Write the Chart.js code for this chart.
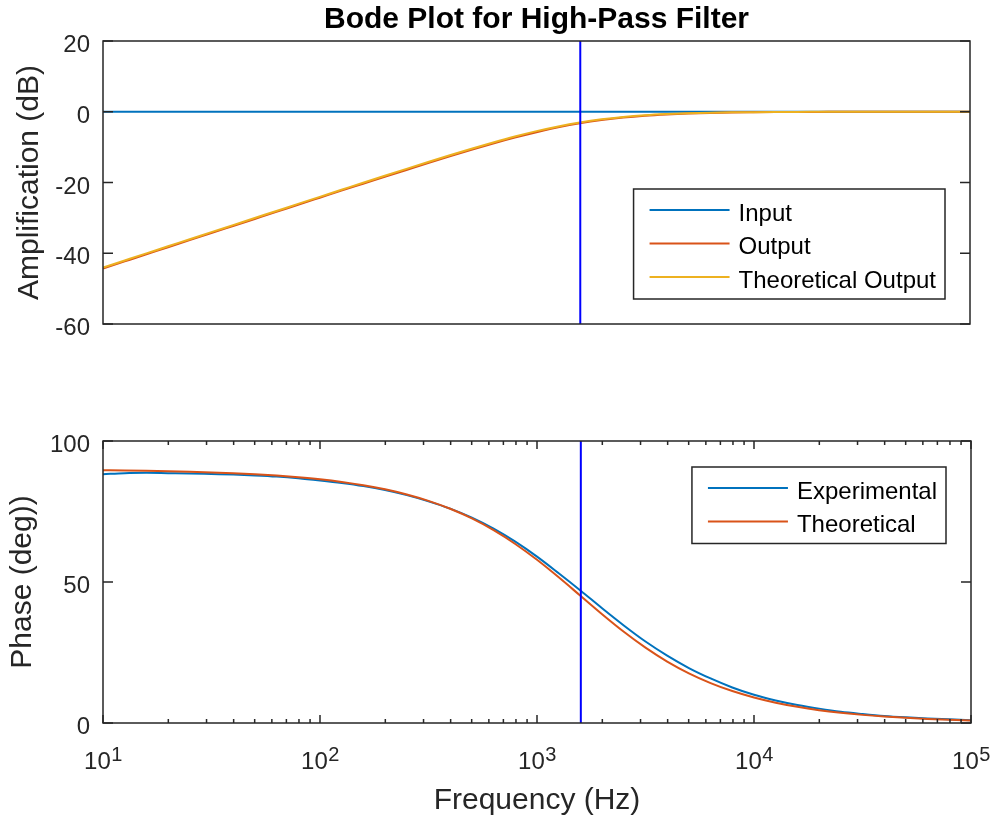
<!DOCTYPE html>
<html><head><meta charset="utf-8">
<script src="https://cdn.jsdelivr.net/npm/chart.js@4.4.1/dist/chart.umd.min.js"></script>
<style>
html,body{margin:0;padding:0;background:#fff;}
#wrap{position:relative;width:994px;height:820px;background:#fff;}
canvas{position:absolute;left:0;}
</style></head><body>
<div id="wrap">
<canvas id="amp" width="994" height="380" style="top:0px"></canvas>
<canvas id="phase" width="994" height="440" style="top:380px"></canvas>
</div>
<script>
// ---- data ----
const frequencies = [10, 12.59, 15.85, 19.95, 25.12, 31.62, 39.81, 50.12, 63.1, 79.43,
  100, 125.9, 158.5, 199.5, 251.2, 316.2, 398.1, 501.2, 631, 794.3,
  1000, 1259, 1585, 1995, 2512, 3162, 3981, 5012, 6310, 7943,
  10000, 12589, 15849, 19953, 25119, 31623, 39811, 50119, 63096, 79433, 100000];
const inputDb = [0,0,0,0,0,0,0,0,0,0, 0,0,0,0,0,0,0,0,0,0, 0,0,0,0,0,0,0,0,0,0, 0,0,0,0,0,0,0,0,0,0,0];
const outputDb = [-44.3, -42.3, -40.3, -38.3, -36.3, -34.3, -32.3, -30.3, -28.3, -26.3,
  -24.3, -22.3, -20.35, -18.4, -16.45, -14.5, -12.6, -10.75, -8.97, -7.3,
  -5.77, -4.42, -3.27, -2.35, -1.64, -1.12, -0.76, -0.5, -0.33, -0.21,
  -0.14, -0.09, -0.06, -0.04, -0.03, -0.02, -0.01, -0.01, 0, 0, 0];
const theoreticalDb = [-44.04, -42.04, -40.04, -38.04, -36.04, -34.04, -32.04, -30.04, -28.05, -26.05,
  -24.06, -22.07, -20.08, -18.11, -16.15, -14.21, -12.30, -10.45, -8.67, -7.00,
  -5.48, -4.15, -3.03, -2.14, -1.47, -0.98, -0.65, -0.42, -0.27, -0.17,
  -0.11, -0.07, -0.04, -0.03, -0.02, -0.01, -0.01, 0, 0, 0, 0];
const phaseExperimental = [88.2, 88.6, 88.7, 88.6, 88.5, 88.3, 88.1, 87.8, 87.4, 86.8,
  86.0, 85.1, 84.0, 82.6, 80.8, 78.6, 76.0, 72.8, 68.9, 64.3,
  59.0, 53.1, 47.0, 40.7, 34.6, 28.9, 23.9, 19.5, 15.8, 12.6,
  10.0, 8.0, 6.4, 5.1, 4.0, 3.2, 2.5, 2.0, 1.6, 1.3, 1.0];
const phaseTheoretical = [89.64, 89.55, 89.43, 89.28, 89.10, 88.86, 88.57, 88.20, 87.73, 87.14,
  86.41, 85.48, 84.31, 82.86, 81.03, 78.77, 75.96, 72.53, 68.38, 63.49,
  57.87, 51.66, 45.13, 38.59, 32.36, 26.73, 21.79, 17.62, 14.16, 11.33,
  9.05, 7.21, 5.74, 4.56, 3.63, 2.88, 2.29, 1.82, 1.45, 1.15, 0.91];
const cutoffHz = 1592;
const ampTicks = [-60, -40, -20, 0, 20];
const phaseTicks = [0, 50, 100];
const decadeTicks = [10, 100, 1000, 10000, 100000];
const decadeExponents = ['1', '2', '3', '4', '5'];
const minorMultipliers = [2, 3, 4, 5, 6, 7, 8, 9];

// ---- styling ----
const FONT = '"Liberation Sans", Arial, Helvetica, sans-serif';
const AX = '#262626';
const C_BLUE = '#0072BD', C_RED = '#D95319', C_YEL = '#EDB120', C_CUT = '#0000FF';

function pts(ys) { return frequencies.map((f, i) => ({ x: f, y: ys[i] })); }

const matlabPlugin = {
  id: 'matlab',
  afterDatasetsDraw(chart, args, o) {
    const ctx = chart.ctx, a = chart.chartArea, xs = chart.scales.x, ys = chart.scales.y;
    ctx.save();
    ctx.strokeStyle = AX;
    ctx.lineWidth = 1.5;
    // ticks (inside, mirrored)
    ctx.beginPath();
    o.yTicks.forEach(v => {
      const y = ys.getPixelForValue(v);
      ctx.moveTo(a.left, y); ctx.lineTo(a.left + o.yTickLen, y);
      ctx.moveTo(a.right, y); ctx.lineTo(a.right - o.yTickLen, y);
    });
    if (o.showXTicks) {
      decadeTicks.forEach((d, i) => {
        const x = xs.getPixelForValue(d);
        ctx.moveTo(x, a.bottom); ctx.lineTo(x, a.bottom - 8);
        ctx.moveTo(x, a.top); ctx.lineTo(x, a.top + 8);
        if (i < decadeTicks.length - 1) {
          minorMultipliers.forEach(m => {
            const xm = xs.getPixelForValue(d * m);
            ctx.moveTo(xm, a.bottom); ctx.lineTo(xm, a.bottom - 4);
            ctx.moveTo(xm, a.top); ctx.lineTo(xm, a.top + 4);
          });
        }
      });
    }
    ctx.stroke();
    // box
    ctx.strokeRect(a.left, a.top, a.right - a.left, a.bottom - a.top);

    // y tick labels
    ctx.fillStyle = AX;
    ctx.font = '24px ' + FONT;
    ctx.textAlign = 'right';
    ctx.textBaseline = 'alphabetic';
    o.yTicks.forEach(v => {
      const y = ys.getPixelForValue(v);
      ctx.fillText(String(v), a.left - 13, y + 11);
    });

    // x tick labels 10^n
    if (o.showXTicks) {
      ctx.textAlign = 'left';
      decadeTicks.forEach((d, i) => {
        const x = xs.getPixelForValue(d);
        ctx.font = '24px ' + FONT;
        const w1 = ctx.measureText('10').width;
        ctx.font = '20px ' + FONT;
        const w2 = ctx.measureText(decadeExponents[i]).width;
        const x0 = x - (w1 + w2) / 2;
        ctx.font = '24px ' + FONT;
        ctx.fillText('10', x0, a.bottom + 46);
        ctx.font = '20px ' + FONT;
        ctx.fillText(decadeExponents[i], x0 + w1 + 0.5, a.bottom + 37.5);
      });
    }
    // x label
    if (o.xLabel) {
      ctx.fillStyle = AX;
      ctx.font = '30px ' + FONT;
      ctx.textAlign = 'center';
      ctx.textBaseline = 'alphabetic';
      ctx.fillText(o.xLabel, (a.left + a.right) / 2, a.bottom + 86);
    }
    // y label
    if (o.yLabel) {
      ctx.save();
      ctx.fillStyle = AX;
      ctx.font = '30px ' + FONT;
      ctx.textAlign = 'center';
      ctx.textBaseline = 'alphabetic';
      ctx.translate(o.yLabelX, (a.top + a.bottom) / 2);
      ctx.rotate(-Math.PI / 2);
      ctx.fillText(o.yLabel, 0, 0);
      ctx.restore();
    }
    // title
    if (o.title) {
      ctx.fillStyle = '#000';
      ctx.font = 'bold 30px ' + FONT;
      ctx.textAlign = 'center';
      ctx.textBaseline = 'alphabetic';
      ctx.fillText(o.title, (a.left + a.right) / 2, a.top - 13);
    }
    // legend
    if (o.legend) {
      const items = chart.data.datasets.filter(ds => o.legend.labels.includes(ds.label));
      items.sort((p, q) => o.legend.labels.indexOf(p.label) - o.legend.labels.indexOf(q.label));
      ctx.font = '24px ' + FONT;
      const tw = Math.max(...items.map(ds => ctx.measureText(ds.label).width));
      const rowH = 33.5;
      const bw = 16 + 80 + 9 + tw + 9;
      const bh = 21 + (items.length - 1) * rowH + 22;
      const bx = a.right - 25 - bw;
      const by = o.legend.corner === 'se' ? a.bottom - 25 - bh : a.top + 26;
      ctx.fillStyle = '#fff';
      ctx.fillRect(bx, by, bw, bh);
      ctx.strokeStyle = AX;
      ctx.lineWidth = 1.5;
      ctx.strokeRect(bx, by, bw, bh);
      items.forEach((ds, i) => {
        const y = by + 21 + i * rowH;
        ctx.strokeStyle = ds.borderColor;
        ctx.lineWidth = 2;
        ctx.beginPath();
        ctx.moveTo(bx + 16, y); ctx.lineTo(bx + 96, y);
        ctx.stroke();
        ctx.fillStyle = '#000';
        ctx.textAlign = 'left';
        ctx.textBaseline = 'alphabetic';
        ctx.fillText(ds.label, bx + 105, y + 10.5);
      });
    }
    ctx.restore();
  }
};

function lineDs(label, ys, color, order) {
  return { label, data: pts(ys), borderColor: color, backgroundColor: color, borderWidth: 2,
    pointRadius: 0, cubicInterpolationMode: 'monotone', fill: false, order };
}
function cutoffDs(ymin, ymax) {
  return { label: 'cutoff', data: [{ x: cutoffHz, y: ymin }, { x: cutoffHz, y: ymax }],
    borderColor: C_CUT, borderWidth: 2, pointRadius: 0, fill: false, order: 0 };
}

new Chart(document.getElementById('amp'), {
  type: 'line',
  data: { datasets: [
    cutoffDs(-60, 20),
    lineDs('Theoretical Output', theoreticalDb, C_YEL, 1),
    lineDs('Output', outputDb, C_RED, 2),
    lineDs('Input', inputDb, C_BLUE, 3)
  ] },
  options: {
    responsive: false, animation: false, devicePixelRatio: 1, events: [],
    layout: { padding: { left: 0, right: 24, top: 41, bottom: 56 } },
    plugins: { legend: { display: false }, tooltip: { enabled: false },
      matlab: { yTicks: ampTicks, yTickLen: 10, showXTicks: false,
        yLabel: 'Amplification (dB)', yLabelX: 38, title: 'Bode Plot for High-Pass Filter',
        legend: { labels: ['Input', 'Output', 'Theoretical Output'], corner: 'se' } } },
    scales: {
      x: { type: 'logarithmic', min: 10, max: 100000, display: false },
      y: { min: -60, max: 20, grid: { display: false, drawTicks: false }, border: { display: false },
        ticks: { display: false, stepSize: 20 },
        afterFit(s) { s.width = 103; } }
    }
  },
  plugins: [matlabPlugin]
});

new Chart(document.getElementById('phase'), {
  type: 'line',
  data: { datasets: [
    cutoffDs(0, 100),
    lineDs('Theoretical', phaseTheoretical, C_RED, 1),
    lineDs('Experimental', phaseExperimental, C_BLUE, 2)
  ] },
  options: {
    responsive: false, animation: false, devicePixelRatio: 1, events: [],
    layout: { padding: { left: 0, right: 23, top: 61, bottom: 97 } },
    plugins: { legend: { display: false }, tooltip: { enabled: false },
      matlab: { yTicks: phaseTicks, yTickLen: 10, showXTicks: true,
        yLabel: 'Phase (deg))', yLabelX: 31, xLabel: 'Frequency (Hz)',
        legend: { labels: ['Experimental', 'Theoretical'], corner: 'ne' } } },
    scales: {
      x: { type: 'logarithmic', min: 10, max: 100000, display: false },
      y: { min: 0, max: 100, grid: { display: false, drawTicks: false }, border: { display: false },
        ticks: { display: false, stepSize: 50 },
        afterFit(s) { s.width = 103; } }
    }
  },
  plugins: [matlabPlugin]
});
</script>
</body></html>
